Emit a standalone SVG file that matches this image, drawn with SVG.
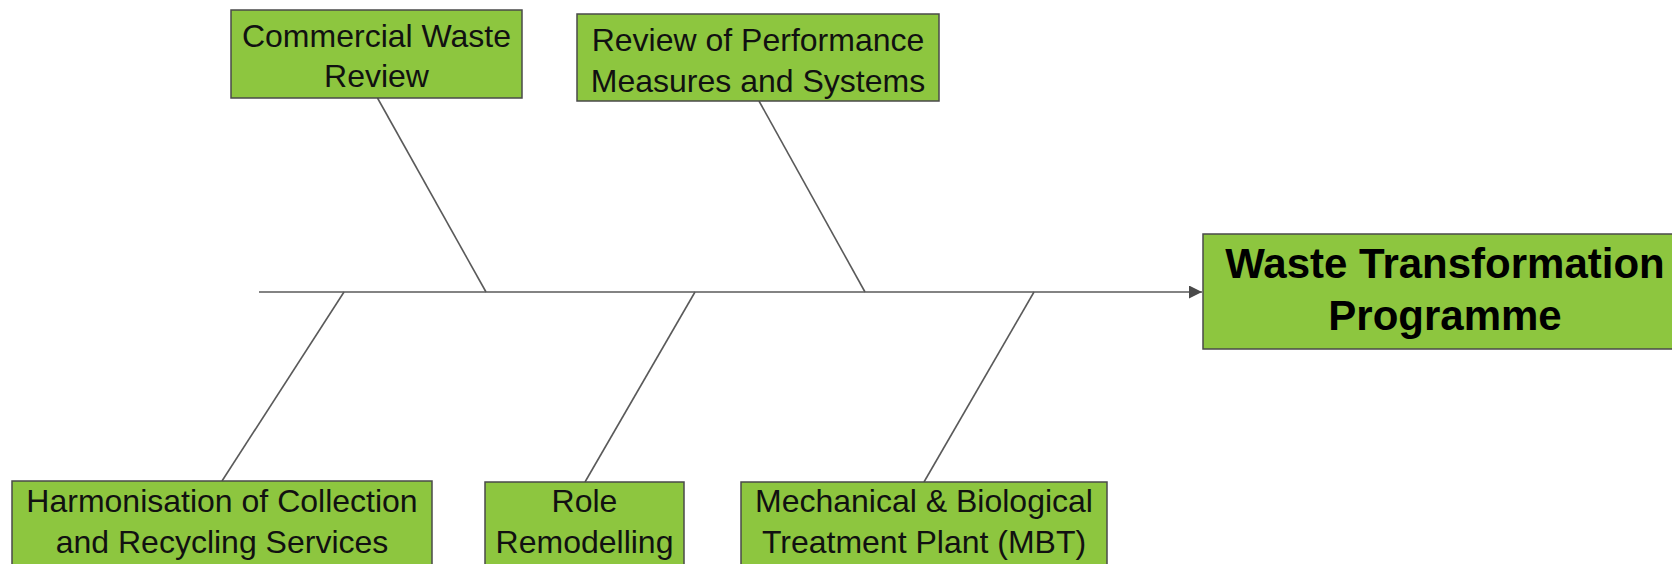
<svg xmlns="http://www.w3.org/2000/svg" width="1672" height="564" viewBox="0 0 1672 564">
<defs>
<style>
.box{fill:#8dc63f;stroke:#4a4a4a;stroke-width:1.5}
.t{font-family:"Liberation Sans",Arial,sans-serif;font-size:32px;fill:#111;text-anchor:middle}
.tb{font-family:"Liberation Sans",Arial,sans-serif;font-size:42px;font-weight:bold;fill:#000;text-anchor:middle}
.ln{stroke:#5a5a5a;stroke-width:1.6;fill:none}
</style>
<marker id="arr" viewBox="0 0 10 10" refX="10" refY="5" markerWidth="13" markerHeight="13" markerUnits="userSpaceOnUse" orient="auto">
<path d="M0,0 L10,5 L0,10 z" fill="#4a4a4a"/>
</marker>
</defs>
<rect width="1672" height="564" fill="#fff"/>
<g id="connectors">
<line class="ln" x1="259" y1="292" x2="1202" y2="292" marker-end="url(#arr)"/>
<line class="ln" x1="377.5" y1="98" x2="486" y2="292"/>
<line class="ln" x1="759" y1="101" x2="865" y2="292"/>
<line class="ln" x1="344" y1="292" x2="222" y2="481"/>
<line class="ln" x1="695" y1="292" x2="585" y2="482"/>
<line class="ln" x1="1034" y1="292" x2="924" y2="482"/>
</g>
<g id="commercial">
<rect class="box" x="231" y="10" width="291" height="88"/>
<text class="t" x="376.5" y="47">Commercial Waste</text>
<text class="t" x="376.5" y="87">Review</text>
</g>
<g id="review">
<rect class="box" x="577" y="14" width="362" height="87"/>
<text class="t" x="758" y="51">Review of Performance</text>
<text class="t" x="758" y="92">Measures and Systems</text>
</g>
<g id="main">
<rect class="box" x="1203" y="234" width="484" height="115"/>
<text class="tb" x="1445" y="278">Waste Transformation</text>
<text class="tb" x="1445" y="330">Programme</text>
</g>
<g id="harmonisation">
<rect class="box" x="12" y="481" width="420" height="95"/>
<text class="t" x="222" y="512">Harmonisation of Collection</text>
<text class="t" x="222" y="553">and Recycling Services</text>
</g>
<g id="role">
<rect class="box" x="485" y="482" width="199" height="95"/>
<text class="t" x="584.5" y="512">Role</text>
<text class="t" x="584.5" y="553">Remodelling</text>
</g>
<g id="mbt">
<rect class="box" x="741" y="482" width="366" height="95"/>
<text class="t" x="924" y="512">Mechanical &amp; Biological</text>
<text class="t" x="924" y="553">Treatment Plant (MBT)</text>
</g>
</svg>
